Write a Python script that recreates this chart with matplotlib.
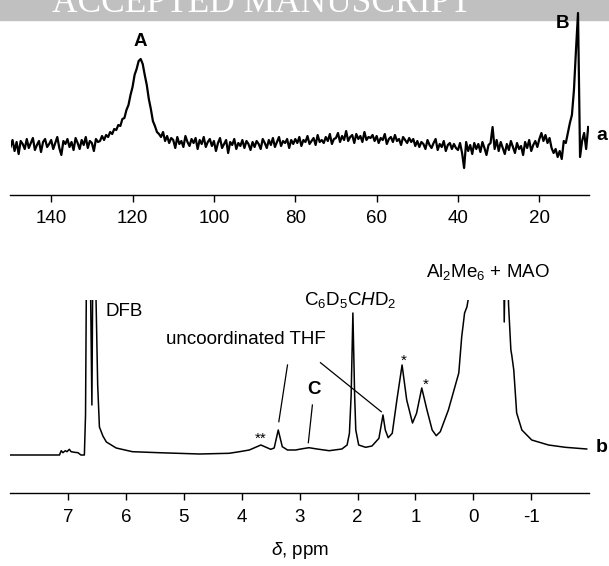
"""Two stacked NMR spectra: (a) noisy 13C-like trace, (b) 1H spectrum with assignments."""

import matplotlib
matplotlib.use("Agg")
import matplotlib.pyplot as plt
from matplotlib.patches import Rectangle
import numpy as np

plt.rcParams["font.family"] = ["Liberation Sans", "DejaVu Sans"]
plt.rcParams["mathtext.fontset"] = "custom"
plt.rcParams["mathtext.rm"] = "Liberation Sans"
plt.rcParams["mathtext.it"] = "Liberation Sans:italic"
plt.rcParams["mathtext.bf"] = "Liberation Sans:bold"

# --- spectrum a: uniformly sampled from 150 ppm down to 8 ppm, step 0.5 ppm
a_start, a_step = 150.0, 0.5
a_intensity = [
    -2, 5, -6, 3, -9, 4, 1, -4, 6, -3, 2, 7, -5, 0, 4, -7, 3, 6, -2, 1,
    5, -4, 2, 8, -3, -10, 4, 1, 6, -2, 3, -5, 7, 2, -4, 5, 0, 8, -3, 4,
    2, -6, 6, 3, 4, 9, 5, 10, 8, 13, 11, 16, 15, 20, 19, 26, 27, 35, 40, 50,
    58, 70, 76, 84, 86, 81, 70, 60, 46, 36, 24, 19, 13, 11, 8, 13, 4, 9, 2, 7,
    5, -3, 8, 1, 4, -2, 9, 3, -1, 6, 2, 7, -4, 5, 1, 8, -2, 3, 6, -1,
    4, -6, 2, 7, -3, 1, 5, -8, 3, 0, 6, -4, 2, -1, 5, -3, 4, 1, -5, 3,
    -2, 4, 1, -4, 6, 2, -3, 5, 0, 7, -2, 3, 8, -1, 4, 2, 6, -3, 5, 1,
    6, 2, 8, -1, 5, 3, 9, 1, 4, 7, 0, 10, 3, 5, 2, 8, 4, 11, 1, 6,
    7, 12, 3, 9, 5, 14, 4, 8, 10, 2, 11, 6, 9, 3, 13, 5, 8, 7, 10, 4,
    9, 2, 7, 5, 11, 1, 6, 8, 3, 10, 4, 6, 0, 8, 5, 2, 7, 3, 6, -1,
    4, -2, 3, 1, -4, 5, 0, -3, 2, 6, -5, 1, -2, 4, -6, 0, 2, -4, 1, -3,
    -5, 2, -8, -23, 3, -6, 0, -9, 2, -4, 1, -7, 3, -3, -10, 0, 2, 18, -4, 5,
    -6, 3, -3, -9, 1, -5, 4, -2, -8, 2, -4, -1, -10, 3, -3, 5, -6, 0, 4, -2,
    6, 12, 4, 10, 2, 7, -3, -8, -4, -12, -6, -14, 4, 2, 12,
    22, 30, 55, 95, 132, -12, 4, 12, -4, 18,
]
a_ppm = a_start - a_step * np.arange(len(a_intensity))
a_ticks = [140, 120, 100, 80, 60, 40, 20]

# --- spectrum b
b_ppm = [
    8.0, 7.15, 7.12, 7.09, 7.05, 7.02, 6.98, 6.95, 6.89, 6.83, 6.78, 6.72,
    6.70, 6.66, 6.59, 6.55, 6.52, 6.49, 6.46, 6.40, 6.34, 6.17, 5.89, 5.43,
    4.73, 4.22, 4.04, 3.87, 3.67, 3.50, 3.44, 3.37, 3.30, 3.21, 3.07, 2.98,
    2.84, 2.70, 2.49, 2.27, 2.18, 2.14, 2.11, 2.08, 2.05, 2.03, 1.98, 1.86,
    1.75, 1.63, 1.56, 1.52, 1.47, 1.40, 1.32, 1.23, 1.15, 1.05, 0.98, 0.89,
    0.80, 0.71, 0.64, 0.57, 0.43, 0.25, 0.20, 0.15, 0.11, 0.08, 0.05, -0.20,
    -0.51, -0.535, -0.57, -0.61, -0.65, -0.665, -0.70, -0.75, -0.84, -1.01,
    -1.30, -1.59, -1.96,
]
b_intensity = [
    0, 0, 4.3, 2.3, 4.3, 3.3, 5.7, 3.3, 2.7, 2.3, 0, 0,
    40, 400, 50, 400, 160, 70, 28, 19, 13, 7, 3.3, 2.3,
    1, 1.7, 3.3, 5, 10, 5.7, 7, 25, 8.3, 5, 5, 6,
    7.3, 6, 4.3, 6, 10, 21.7, 60, 142, 60, 25, 10, 7.7,
    9, 16.7, 40, 25, 17.3, 21.7, 55, 90, 55, 32, 41.7, 67,
    45, 25, 19.3, 23.3, 45, 82, 118, 142, 148, 158, 250, 600,
    300, 133, 250, 150, 105, 100, 85, 42, 25, 15,
    10, 7.7, 6,
]
b_ticks = [7, 6, 5, 4, 3, 2, 1, 0, -1]
b_ticklabels = ["7", "6", "5", "4", "3", "2", "1", "0", "-1"]

W, H = 609, 566
fig = plt.figure(figsize=(W / 100, H / 100), dpi=100)


def box(left, top, right, bottom):
    # pixel box -> figure fraction rect
    return [left / W, 1 - bottom / H, (right - left) / W, (bottom - top) / H]


def style_axis(ax, pad):
    for side in ("left", "right", "top"):
        ax.spines[side].set_visible(False)
    ax.spines["bottom"].set_linewidth(1.0)
    ax.patch.set_visible(False)
    ax.set_yticks([])
    ax.tick_params(axis="x", direction="out", length=5, width=1.0,
                   labelsize=13.5, pad=pad, color="black")


# "accepted manuscript" banner cut off at the top of the page (drawn under the axes)
fig.patches.append(Rectangle((0, 1 - 20 / H), 1, 20 / H, transform=fig.transFigure,
                             color="#c0c0c0", zorder=-5))
fig.text(262 / W, 1 - 12 / H, "ACCEPTED MANUSCRIPT", color="white",
         family="Liberation Serif", fontsize=25.5, ha="center", va="baseline",
         zorder=-4)

# top panel
ax1 = fig.add_axes(box(10.5, 10, 589, 195))
ax1.plot(a_ppm, a_intensity, color="black", lw=1.6)
ax1.set_xlim(150, 7.8)
ax1.set_ylim(-50, 135)
ax1.set_xticks(a_ticks)
style_axis(ax1, 6)
ax1.text(118, 103, "A", fontsize=13.5, fontweight="bold", ha="center", va="center")
ax1.text(14.4, 121, "B", fontsize=13.5, fontweight="bold", ha="center", va="center")
ax1.text(4.6, 9, "a", fontsize=14, fontweight="bold", ha="center", va="center",
         clip_on=False)

# bottom panel
ax2 = fig.add_axes(box(10.3, 300, 589, 492.7))
ax2.plot(b_ppm, b_intensity, color="black", lw=1.1)
ax2.set_xlim(8, -2)
ax2.set_ylim(-37.7, 155)
ax2.set_xticks(b_ticks)
ax2.set_xticklabels(b_ticklabels)
style_axis(ax2, 7)
ax2.set_xlabel(r"$\delta$, ppm", fontsize=13.5, labelpad=10)

lab = dict(fontsize=13.5, va="center", clip_on=False)
ax2.text(6.36, 143.3, "DFB", ha="left", **lab)
ax2.text(3.93, 115, "uncoordinated THF", ha="center", **lab)
ax2.text(2.13, 155, r"C$_6$D$_5$C$\mathit{H}$D$_2$", ha="center", **lab)
ax2.text(-0.25, 183, r"Al$_2$Me$_6$ + MAO", ha="center", **lab)
ax2.text(2.75, 66, "C", ha="center", fontweight="bold", fontsize=13.5, va="center")
ax2.text(3.67, 16, "**", ha="center", fontsize=11, va="center")
ax2.text(1.21, 94, "*", ha="center", fontsize=11, va="center")
ax2.text(0.83, 70, "*", ha="center", fontsize=11, va="center")
ax2.text(-2.21, 7, "b", ha="center", fontsize=14, fontweight="bold", va="center",
         clip_on=False)

# leader lines
for (x0, y0), (x1, y1) in [((3.21, 90), (3.36, 33.3)),
                           ((2.64, 92.3), (1.59, 43.3)),
                           ((2.78, 50), (2.85, 12.3))]:
    ax2.plot([x0, x1], [y0, y1], color="black", lw=0.9)

fig.savefig("out.png", dpi=100)
